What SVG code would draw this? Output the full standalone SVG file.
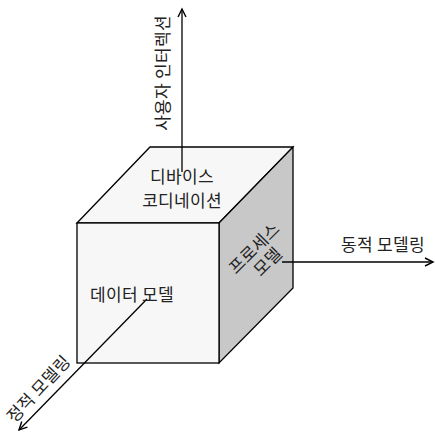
<svg xmlns="http://www.w3.org/2000/svg" width="435" height="438" viewBox="0 0 435 438">
<style>
.face{stroke:#000;stroke-width:1.3;stroke-linejoin:miter}
.ax{stroke:#000;stroke-width:1.3;fill:none}
text{font-family:"Noto Sans CJK KR","Noto Sans",sans-serif;font-size:17px;fill:#222;text-anchor:middle;letter-spacing:0.3px}
</style>
<defs>
<marker id="arr" markerWidth="12" markerHeight="12" refX="9" refY="5" orient="auto" markerUnits="userSpaceOnUse">
<path d="M1,1 L9,5 L1,9" fill="none" stroke="#000" stroke-width="1.4"/>
</marker>
</defs>
<rect width="435" height="438" fill="#fff"/>
<g id="cube">
<polygon class="face" points="77,223 150,147 293,147 219,223" fill="#f7f7f7"/>
<polygon class="face" points="219,223 293,147 293,288 219,363" fill="#c8c8c8"/>
<rect class="face" x="77" y="223" width="142" height="140" fill="#f7f7f7"/>
</g>
<g id="connectors">
<line class="ax" x1="182" y1="172" x2="182" y2="9" marker-end="url(#arr)"/>
<line class="ax" x1="282" y1="262" x2="433" y2="262" marker-end="url(#arr)"/>
<line class="ax" x1="147" y1="299" x2="19" y2="430" marker-end="url(#arr)"/>
</g>
<g id="label-top">
<text x="182" y="183">디바이스</text>
<text x="182" y="207">코디네이션</text>
</g>
<g id="label-front"><text x="132" y="301">데이터 모델</text></g>
<g id="label-right" transform="translate(260,254) rotate(-45)">
<text x="0" y="-2">프로세스</text>
<text x="0" y="17">모델</text>
</g>
<g id="label-user"><text transform="translate(169,73) rotate(-90)">사용자 인터렉션</text></g>
<g id="label-dynamic"><text x="383" y="251">동적 모델링</text></g>
<g id="label-static"><text transform="translate(43,393) rotate(-47)">정적 모델링</text></g>
</svg>
